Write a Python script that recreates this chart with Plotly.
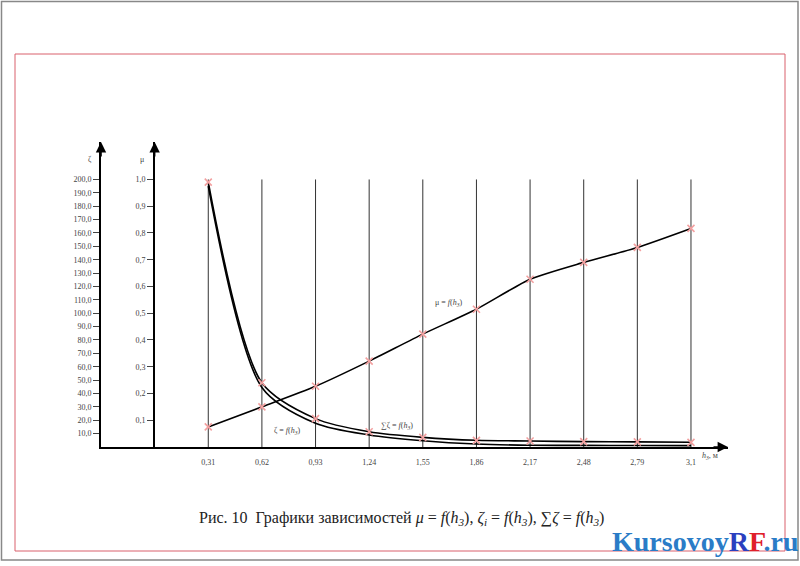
import plotly.graph_objects as go

# h3, m
h_vals = [0.31, 0.62, 0.93, 1.24, 1.55, 1.86, 2.17, 2.48, 2.79, 3.1]
h_labels = ["0,31", "0,62", "0,93", "1,24", "1,55", "1,86", "2,17", "2,48", "2,79", "3,1"]
mu_vals = [0.075, 0.150, 0.227, 0.321, 0.422, 0.515, 0.627, 0.690, 0.746, 0.817]
zeta_vals = [195, 44.5, 17.7, 9.0, 4.7, 2.2, 1.3, 1.2, 1.1, 1.0]
sum_zeta_vals = [198, 48, 21.2, 11.4, 7.2, 5.0, 4.5, 4.0, 3.8, 3.5]

zeta_ticks = [10 * i for i in range(1, 21)]
zeta_ticktext = [f"{v},0" for v in zeta_ticks]
mu_ticks = [i / 10 for i in range(1, 11)]
mu_ticktext = ["0,1", "0,2", "0,3", "0,4", "0,5", "0,6", "0,7", "0,8", "0,9", "1,0"]

serif = "Liberation Serif"
mark_color = "#f3a0a0"

# plot area in pixels
L, T, R, B = 101, 142, 728, 447
W, H = R - L, B - T


def px(x):
    return (x - L) / W


def py(y):
    return (B - y) / H


fig = go.Figure()

line_style = dict(color="black", width=1.6, shape="spline", smoothing=0.8)
marker_style = dict(symbol="x-thin", size=7, line=dict(color=mark_color, width=1.6))

fig.add_trace(go.Scatter(x=h_vals, y=zeta_vals, mode="lines", line=line_style))
fig.add_trace(go.Scatter(x=h_vals, y=sum_zeta_vals, mode="lines+markers", line=line_style,
                         marker=marker_style))
fig.add_trace(go.Scatter(x=h_vals, y=mu_vals, yaxis="y2", mode="lines+markers",
                         line=dict(color="black", width=1.6, shape="spline", smoothing=0.6),
                         marker=marker_style))

# vertical grid lines up to zeta = 200
for h in h_vals:
    fig.add_shape(type="line", xref="x", yref="y", x0=h, x1=h, y0=0, y1=zeta_ticks[-1],
                  line=dict(color="#333333", width=1), layer="below")

# frames
fig.add_shape(type="rect", xref="paper", yref="paper",
              x0=px(15), x1=px(785), y0=py(551), y1=py(54),
              line=dict(color="#d9606c", width=1))
fig.add_shape(type="rect", xref="paper", yref="paper",
              x0=px(1.5), x1=px(798), y0=py(560), y1=py(1.5),
              line=dict(color="#888888", width=1.5))

annotations = []
# axis arrows
arrow = dict(text="", showarrow=True, arrowhead=2, arrowsize=1.3, arrowwidth=1.6,
             arrowcolor="black")
annotations.append(dict(arrow, xref="x", yref="paper", x=-0.31, y=1, ax=0, ay=16))
annotations.append(dict(arrow, xref="x", yref="paper", x=0, y=1, ax=0, ay=16))
annotations.append(dict(arrow, xref="paper", yref="y", x=1, y=0, ax=-16, ay=0))

small = dict(family=serif, size=8, color="#444444")
annotations += [
    dict(text="ζ", xref="paper", yref="paper", x=px(86), y=py(153),
         showarrow=False, font=small),
    dict(text="μ", xref="paper", yref="paper", x=px(138), y=py(153),
         showarrow=False, font=small),
    dict(text="<i>h<sub>3</sub></i>, м", xref="paper", yref="paper",
         x=px(720), y=py(463), showarrow=False, font=small),
    dict(text="μ = <i>f</i>(<i>h<sub>3</sub></i>)", xref="x", yref="y", x=1.70, y=108,
         showarrow=False, font=small),
    dict(text="ζ = <i>f</i>(<i>h<sub>3</sub></i>)", xref="x", yref="y", x=0.77, y=12,
         showarrow=False, font=small),
    dict(text="∑ζ = <i>f</i>(<i>h<sub>3</sub></i>)", xref="x", yref="y", x=1.40, y=16,
         showarrow=False, font=small),
    dict(text="Рис. 10  Графики зависимостей <i>μ</i> = <i>f</i>(<i>h<sub>3</sub></i>), "
              "<i>ζ<sub>i</sub></i> = <i>f</i>(<i>h<sub>3</sub></i>), "
              "∑<i>ζ</i> = <i>f</i>(<i>h<sub>3</sub></i>)",
         xref="paper", yref="paper", x=px(401), y=py(530),
         showarrow=False, font=dict(family=serif, size=16, color="#222222")),
    dict(text="<b>Kursovoy<span style='color:#2b3fbf'>R</span>"
              "<span style='color:#e0202a'>F</span>.ru</b>",
         xref="paper", yref="paper", x=px(800), y=py(559),
         xanchor="right", showarrow=False,
         font=dict(family=serif, size=28, color="#2a7cc7")),
]

fig.update_layout(
    width=800, height=566,
    margin=dict(l=L, r=800 - R, t=T, b=566 - B),
    paper_bgcolor="white", plot_bgcolor="white",
    showlegend=False,
    annotations=annotations,
    xaxis=dict(range=[-0.31, 3.314], tickvals=h_vals, ticktext=h_labels,
               showline=True, linecolor="black", linewidth=1.6, showgrid=False,
               zeroline=False, ticks="", ticklabelstandoff=7,
               tickfont=small),
    yaxis=dict(range=[0, 228], tickvals=zeta_ticks, ticktext=zeta_ticktext,
               showline=True, linecolor="black", linewidth=1.6, showgrid=False,
               zeroline=False, ticks="outside", ticklen=6, tickcolor="#444444",
               tickfont=small),
    yaxis2=dict(range=[0, 1.14], tickvals=mu_ticks, ticktext=mu_ticktext,
                overlaying="y", anchor="free", position=px(154), side="left",
                showline=True, linecolor="black", linewidth=1.6, showgrid=False,
                zeroline=False, ticks="outside", ticklen=6, tickcolor="#444444",
                tickfont=small),
)

fig.write_html("out.html", config={"displayModeBar": False},
               post_script="document.body.style.margin = '0';")
